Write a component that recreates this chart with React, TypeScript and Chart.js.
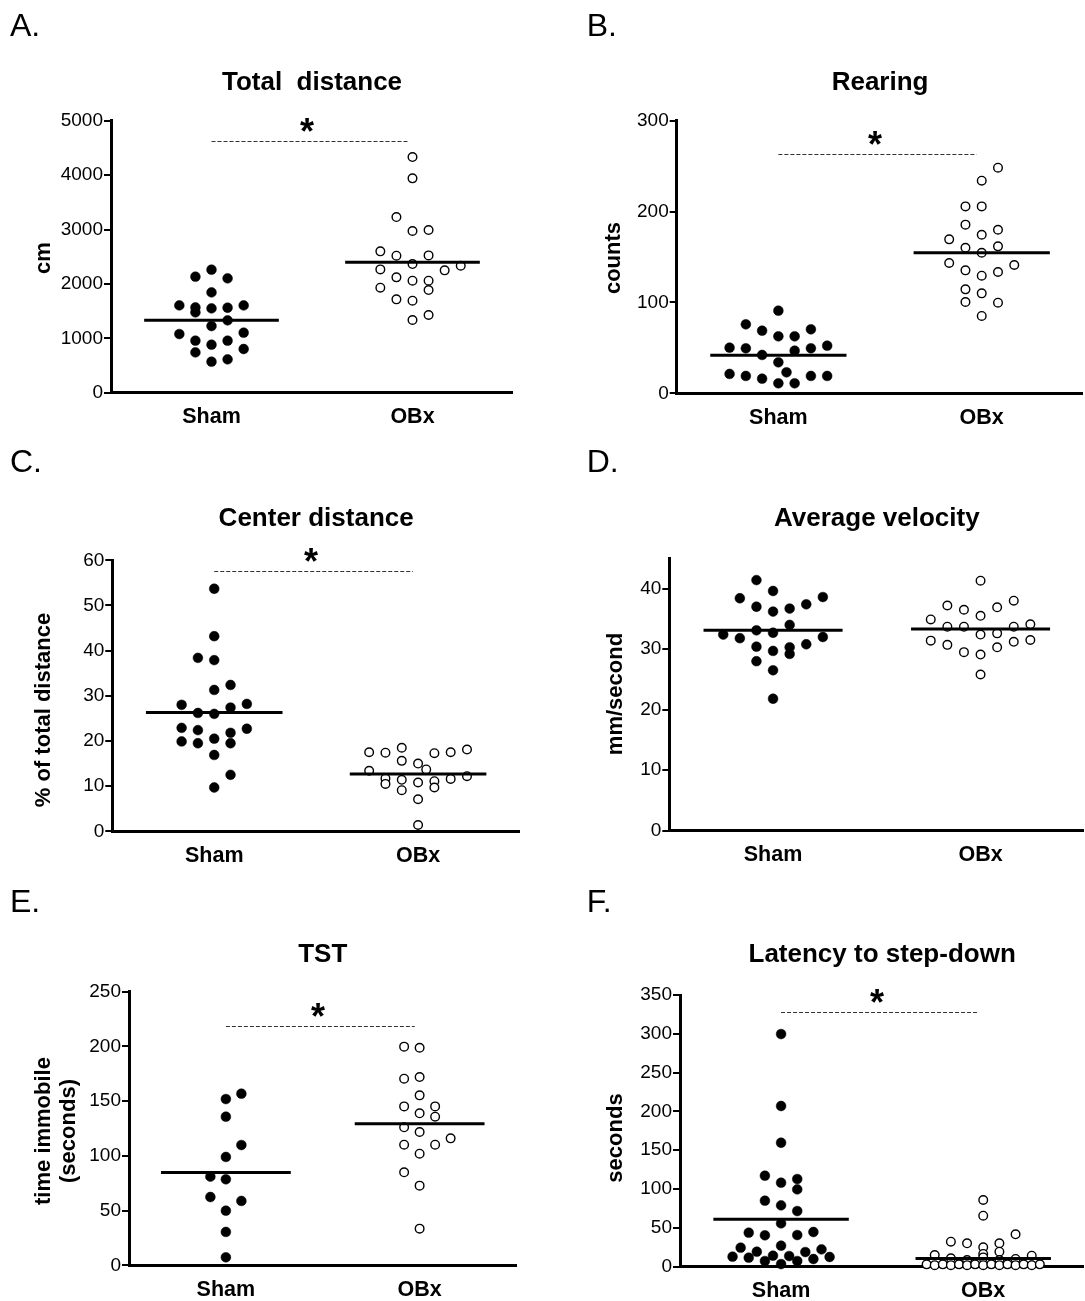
import { useEffect, useRef } from "react";
import { Chart, registerables } from "chart.js";

Chart.register(...registerables);

const FONT = "'Liberation Sans', Arial, Helvetica, sans-serif";
Chart.defaults.font.family = FONT;

// ---------- data ----------
const categories = ["Sham", "OBx"];

// A. Total distance (cm)
const totalDistSham = [2261, 2132, 2102, 1844, 1605, 1568, 1550, 1562, 1605, 1477, 1330, 1225, 1078, 1103, 956, 956, 882, 741, 803, 570, 613];
const totalDistShamLane = [0, -1, 1, 0, -2, -1, 0, 1, 2, -1, 1, 0, -2, 2, -1, 1, 0, -1, 2, 0, 1];
const totalDistOBx = [4332, 3940, 3229, 2972, 2990, 2598, 2518, 2524, 2365, 2334, 2267, 2249, 2120, 2059, 2059, 1930, 1887, 1716, 1691, 1428, 1336];
const totalDistOBxLane = [0, 0, -1, 0, 1, -2, -1, 1, 0, 3, -2, 2, -1, 0, 1, -2, 1, -1, 0, 1, 0];
const totalDistMeans = [1330, 2396];
const totalDistTicks = [0, 1000, 2000, 3000, 4000, 5000];
const totalDistSig = 4632;

// B. Rearing (counts)
const rearingSham = [90.9, 75.9, 68.9, 70.4, 62.7, 62.7, 50.2, 49.5, 42.2, 46.9, 49.5, 52.4, 34.1, 21.3, 19.1, 16.1, 23.1, 19.1, 19.1, 11.0, 11.0];
const rearingShamLane = [0, -2, -1, 2, 0, 1, -3, -2, -1, 1, 2, 3, 0, -3, -2, -1, 0.5, 2, 3, 0, 1];
const rearingOBx = [248.3, 234, 205.7, 205.7, 185.6, 180, 174.5, 169.4, 160.2, 161.7, 154.7, 143.4, 141.2, 135.3, 133.5, 129.4, 114.4, 110, 100.5, 99.7, 85.1];
const rearingOBxLane = [1, 0, -1, 0, -1, 1, 0, -2, -1, 1, 0, -2, 2, -1, 1, 0, -1, 0, -1, 1, 0];
const rearingMeans = [41.8, 154.7];
const rearingTicks = [0, 100, 200, 300];
const rearingSig = 263;

// C. Center distance (% of total distance)
const centerSham = [53.7, 43.2, 38.4, 37.9, 32.4, 31.3, 28.0, 28.2, 26.2, 26.0, 27.4, 22.9, 22.4, 21.8, 22.7, 19.9, 19.5, 20.5, 19.5, 16.9, 12.5, 9.7];
const centerShamLane = [0, 0, -1, 0, 1, 0, -2, 2, -1, 0, 1, -2, -1, 1, 2, -2, -1, 0, 1, 0, 1, 0];
const centerOBx = [17.5, 17.4, 18.5, 15.6, 15.0, 17.3, 17.5, 18.1, 13.4, 13.7, 11.7, 10.5, 11.4, 10.8, 11.1, 9.7, 11.6, 12.2, 9.1, 7.1, 1.4];
const centerOBxLane = [-3, -2, -1, -1, 0, 1, 2, 3, -3, 0.5, -2, -2, -1, 0, 1, 1, 2, 3, -1, 0, 0];
const centerMeans = [26.3, 12.7];
const centerTicks = [0, 10, 20, 30, 40, 50, 60];
const centerSig = 57.6;

// D. Average velocity (mm/second)
const velocitySham = [41.4, 39.6, 38.4, 38.6, 37.0, 36.2, 36.7, 37.4, 34.0, 32.4, 33.1, 32.7, 31.8, 32.0, 30.8, 30.4, 30.3, 29.7, 29.2, 28.0, 26.5, 21.8];
const velocityShamLane = [-1, 0, -2, 3, -1, 0, 1, 2, 1, -3, -1, 0, -2, 3, 2, -1, 1, 0, 1, -1, 0, 0];
const velocityOBx = [41.3, 37.2, 36.5, 36.9, 38.0, 35.5, 34.9, 33.7, 33.7, 33.7, 34.1, 32.6, 32.4, 31.4, 30.7, 31.5, 31.2, 30.3, 29.5, 29.1, 25.8];
const velocityOBxLane = [0, -2, -1, 1, 2, 0, -3, -2, -1, 2, 3, 1, 0, -3, -2, 3, 2, 1, -1, 0, 0];
const velocityMeans = [33.1, 33.3];
const velocityTicks = [0, 10, 20, 30, 40];

// E. TST (time immobile, seconds)
const tstSham = [156.8, 151.9, 135.8, 109.9, 99.0, 81.0, 78.6, 62.4, 58.8, 49.9, 30.5, 7.3];
const tstShamLane = [1, 0, 0, 1, 0, -1, 0, -1, 1, 0, 0, 0];
const tstOBx = [199.8, 198.8, 170.5, 172.0, 155.3, 145.2, 145.2, 138.9, 135.8, 126.1, 121.8, 116.0, 110.2, 110.2, 102.0, 85.0, 72.8, 33.5];
const tstOBxLane = [-1, 0, -1, 0, 0, -1, 1, 0, 1, -1, 0, 2, -1, 1, 0, -1, 0, 0];
const tstMeans = [84.7, 129.4];
const tstTicks = [0, 50, 100, 150, 200, 250];
const tstSig = 218.3;

// F. Latency to step-down (seconds)
const latencySham = [299.7, 207, 159.7, 117.2, 112.9, 108.2, 99.6, 85.0, 79.0, 71.7, 55.8, 43.8, 40.4, 40.8, 44.7, 27.1, 24.5, 19.3, 22.3, 18.9, 12.9, 11.6, 14.2, 13.7, 12.5, 7.3, 7.3, 9.9, 3.4];
const latencyShamLane = [0, 0, 0, -1, 1, 0, 1, -1, 0, 1, 0, -2, -1, 1, 2, 0, -2.5, -1.5, 2.5, 1.5, -3, -2, -0.5, 0.5, 3, -1, 1, 2, 0];
const latencyOBx = [85.9, 65.7, 41.7, 32.2, 30.1, 30.1, 25.0, 19.3, 16.4, 15.1, 14.2, 12, 10.8, 10, 8.5, 8.5, 3, 2, 3, 2, 3, 2, 3, 2, 3, 2, 3, 2, 3, 2, 3];
const latencyOBxLane = [0, 0, 2, -2, -1, 1, 0, 1, 0, -3, 3, 0, -2, 2, -1, 1, -3.5, -3, -2.5, -2, -1.5, -1, -0.5, 0, 0.5, 1, 1.5, 2, 2.5, 3, 3.5];
const latencyMeans = [61, 10.7];
const latencyTicks = [0, 50, 100, 150, 200, 250, 300, 350];
const latencySig = 328.5;

// ---------- layout / style ----------
const LANE_STEP = 0.08;
const MEAN_HALF = 0.335;
const Y_W = 80;
const X_H = 10;

type Box = { left: number; top: number; width: number; height: number };
type Area = { L: number; R: number; T: number; B: number };
type Panel = {
  key: string;
  letter: string;
  title: string;
  yTitle: string[];
  yTitleX: number[];
  yTitleY: number;
  letterX: number;
  letterY: number;
  titleY: number;
  box: Box;
  area: Area;
  max: number;
  ticks: number[];
  sham: number[];
  shamLane: number[];
  obx: number[];
  obxLane: number[];
  means: number[];
  sig: number | null;
};

const panels: Panel[] = [
  {
    key: "A", letter: "A.", title: "Total  distance", yTitle: ["cm"], yTitleX: [44], yTitleY: 258,
    letterX: 10, letterY: 36, titleY: 90,
    box: { left: 0, top: 0, width: 545, height: 440 }, area: { L: 111, R: 513, T: 120.7, B: 392.7 },
    max: 5000, ticks: totalDistTicks, sham: totalDistSham, shamLane: totalDistShamLane,
    obx: totalDistOBx, obxLane: totalDistOBxLane, means: totalDistMeans, sig: totalDistSig,
  },
  {
    key: "B", letter: "B.", title: "Rearing", yTitle: ["counts"], yTitleX: [614], yTitleY: 258,
    letterX: 586.7, letterY: 36, titleY: 90,
    box: { left: 545, top: 0, width: 545, height: 440 }, area: { L: 676.7, R: 1083.4, T: 120.7, B: 393.3 },
    max: 300, ticks: rearingTicks, sham: rearingSham, shamLane: rearingShamLane,
    obx: rearingOBx, obxLane: rearingOBxLane, means: rearingMeans, sig: rearingSig,
  },
  {
    key: "C", letter: "C.", title: "Center distance", yTitle: ["% of total distance"], yTitleX: [44], yTitleY: 710,
    letterX: 10, letterY: 472, titleY: 526,
    box: { left: 0, top: 440, width: 545, height: 440 }, area: { L: 112.3, R: 520, T: 560.3, B: 831.3 },
    max: 60, ticks: centerTicks, sham: centerSham, shamLane: centerShamLane,
    obx: centerOBx, obxLane: centerOBxLane, means: centerMeans, sig: centerSig,
  },
  {
    key: "D", letter: "D.", title: "Average velocity", yTitle: ["mm/second"], yTitleX: [616], yTitleY: 694,
    letterX: 586.7, letterY: 472, titleY: 526,
    box: { left: 545, top: 440, width: 545, height: 440 }, area: { L: 669.3, R: 1088, T: 558.3, B: 830.7 },
    max: 45, ticks: velocityTicks, sham: velocitySham, shamLane: velocityShamLane,
    obx: velocityOBx, obxLane: velocityOBxLane, means: velocityMeans, sig: null,
  },
  {
    key: "E", letter: "E.", title: "TST", yTitle: ["time immobile", "(seconds)"], yTitleX: [44, 69], yTitleY: 1131,
    letterX: 10, letterY: 912, titleY: 962,
    box: { left: 0, top: 880, width: 545, height: 421 }, area: { L: 129, R: 516.5, T: 991.7, B: 1265.3 },
    max: 250, ticks: tstTicks, sham: tstSham, shamLane: tstShamLane,
    obx: tstOBx, obxLane: tstOBxLane, means: tstMeans, sig: tstSig,
  },
  {
    key: "F", letter: "F.", title: "Latency to step-down", yTitle: ["seconds"], yTitleX: [616], yTitleY: 1138,
    letterX: 586.7, letterY: 912, titleY: 962,
    box: { left: 545, top: 880, width: 545, height: 421 }, area: { L: 680, R: 1089, T: 995, B: 1266.7 },
    max: 350, ticks: latencyTicks, sham: latencySham, shamLane: latencyShamLane,
    obx: latencyOBx, obxLane: latencyOBxLane, means: latencyMeans, sig: latencySig,
  },
];

function makeTextPlugin(p: Panel) {
  return {
    id: "panelText" + p.key,
    afterDraw(chart: any) {
      const ctx: CanvasRenderingContext2D = chart.ctx;
      const xs = chart.scales.x;
      const ys = chart.scales.y;
      const ox = p.box.left;
      const oy = p.box.top;
      ctx.save();
      ctx.fillStyle = "#000";
      // panel letter
      ctx.font = `32px ${FONT}`;
      ctx.textAlign = "left";
      ctx.textBaseline = "alphabetic";
      ctx.fillText(p.letter, p.letterX - ox, p.letterY - oy);
      // title
      ctx.font = `bold 26px ${FONT}`;
      ctx.textAlign = "center";
      ctx.fillText(p.title, xs.getPixelForValue(1.5), p.titleY - oy);
      // y title
      ctx.font = `bold 22px ${FONT}`;
      p.yTitle.forEach((line, i) => {
        ctx.save();
        ctx.translate(p.yTitleX[i] - ox, p.yTitleY - oy);
        ctx.rotate(-Math.PI / 2);
        ctx.textAlign = "center";
        ctx.textBaseline = "middle";
        ctx.fillText(line, 0, 0);
        ctx.restore();
      });
      // category labels
      ctx.font = `bold 21.5px ${FONT}`;
      ctx.textAlign = "center";
      ctx.textBaseline = "alphabetic";
      categories.forEach((c, i) => {
        ctx.fillText(c, xs.getPixelForValue(i + 1), chart.chartArea.bottom + 30.5);
      });
      // significance
      if (p.sig !== null) {
        const y = Math.round(ys.getPixelForValue(p.sig)) + 0.5;
        ctx.strokeStyle = "#333";
        ctx.lineWidth = 1;
        ctx.setLineDash([4, 2]);
        ctx.beginPath();
        ctx.moveTo(xs.getPixelForValue(1.0), y);
        ctx.lineTo(xs.getPixelForValue(1.975), y);
        ctx.stroke();
        ctx.setLineDash([]);
        const fs = 36;
        ctx.font = `bold ${fs}px ${FONT}`;
        ctx.fillText("*", xs.getPixelForValue(1.475), y - 18.5 + 0.57 * fs);
      }
      ctx.restore();
    },
  };
}

function buildConfig(p: Panel): any {
  const pts = (vals: number[], lanes: number[], c: number) =>
    vals.map((v, i) => ({ x: c + lanes[i] * LANE_STEP, y: v }));
  const meanLine = (m: number, c: number) => [
    { x: c - MEAN_HALF, y: m },
    { x: c + MEAN_HALF, y: m },
  ];
  return {
    type: "scatter",
    data: {
      datasets: [
        {
          data: meanLine(p.means[0], 1), showLine: true, borderColor: "#000", borderWidth: 3,
          pointRadius: 0, order: 0, clip: false, borderCapStyle: "butt",
        },
        {
          data: meanLine(p.means[1], 2), showLine: true, borderColor: "#000", borderWidth: 3,
          pointRadius: 0, order: 0, clip: false, borderCapStyle: "butt",
        },
        {
          label: categories[0], data: pts(p.sham, p.shamLane, 1), pointRadius: 4.9,
          pointBackgroundColor: "#000", pointBorderColor: "#000", pointBorderWidth: 0.5,
          order: 1, clip: false,
        },
        {
          label: categories[1], data: pts(p.obx, p.obxLane, 2), pointRadius: 4.3,
          pointBackgroundColor: "#fff", pointBorderColor: "#000", pointBorderWidth: 1.4,
          order: 1, clip: false,
        },
      ],
    },
    options: {
      responsive: false,
      animation: false,
      devicePixelRatio: 1,
      layout: {
        padding: {
          left: p.area.L - p.box.left - Y_W,
          right: p.box.left + p.box.width - p.area.R,
          top: p.area.T - p.box.top,
          bottom: p.box.top + p.box.height - p.area.B - X_H,
        },
      },
      plugins: {
        legend: { display: false },
        tooltip: { enabled: false },
        title: { display: false },
      },
      scales: {
        x: {
          type: "linear",
          min: 0.5,
          max: 2.5,
          afterFit: (s: any) => { s.height = X_H; },
          ticks: { display: false },
          grid: { display: true, drawOnChartArea: false, drawTicks: false, lineWidth: 0 },
          border: { display: true, color: "#000", width: 3 },
        },
        y: {
          type: "linear",
          min: 0,
          max: p.max,
          afterFit: (s: any) => { s.width = Y_W; },
          afterBuildTicks: (s: any) => { s.ticks = p.ticks.map((v) => ({ value: v })); },
          ticks: {
            color: "#000",
            font: { family: FONT, size: 19 },
            padding: 1,
            callback: (v: any) => String(v),
          },
          grid: { drawOnChartArea: false, drawTicks: true, tickLength: 7, color: "#000", lineWidth: 2 },
          border: { display: true, color: "#000", width: 3 },
        },
      },
    },
    plugins: [makeTextPlugin(p)],
  };
}

function PanelChart({ p }: { p: Panel }) {
  const ref = useRef<HTMLCanvasElement | null>(null);
  useEffect(() => {
    if (!ref.current) return;
    const chart = new Chart(ref.current, buildConfig(p));
    return () => chart.destroy();
  }, [p]);
  return (
    <canvas
      ref={ref}
      width={p.box.width}
      height={p.box.height}
      style={{ position: "absolute", left: p.box.left, top: p.box.top, width: p.box.width, height: p.box.height }}
    />
  );
}

export default function App() {
  return (
    <div
      style={{
        position: "absolute", left: 0, top: 0, width: 1085, height: 1301,
        overflow: "hidden", background: "#fff",
      }}
    >
      {panels.map((p) => (
        <PanelChart key={p.key} p={p} />
      ))}
    </div>
  );
}
